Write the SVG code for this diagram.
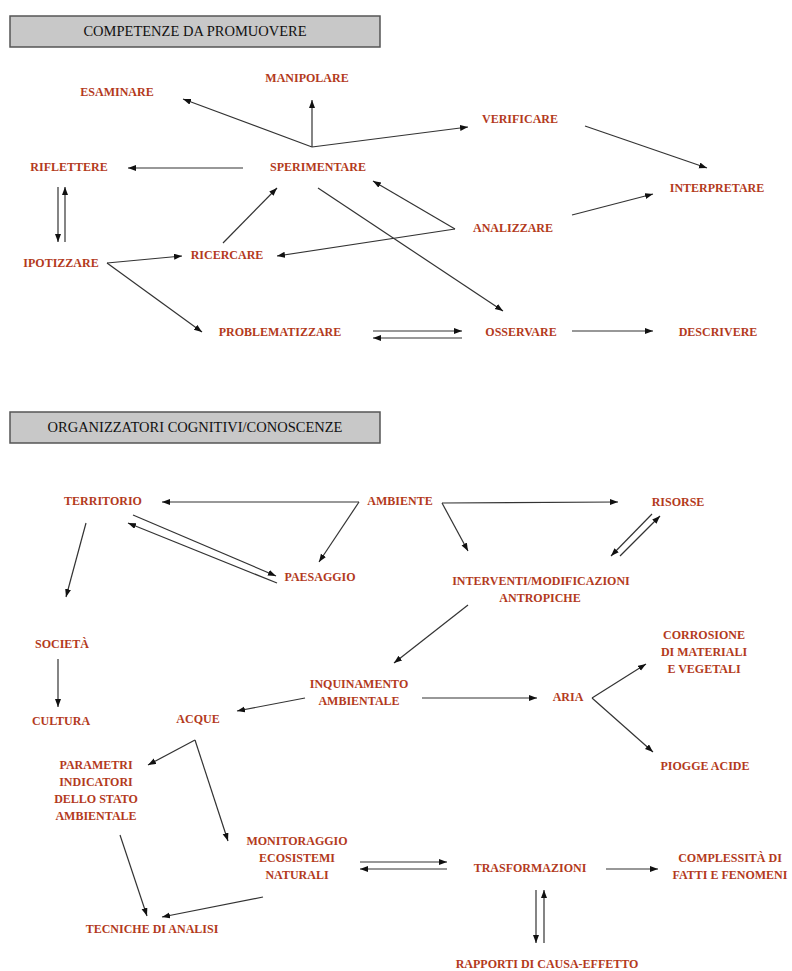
<svg xmlns="http://www.w3.org/2000/svg" width="792" height="971" viewBox="0 0 792 971">
<style>
.hdr{fill:#c8c8c8;stroke:#555;stroke-width:1.5}
.ht{font-family:"Liberation Serif",serif;font-size:14.5px;fill:#111;text-anchor:middle}
.t{font-family:"Liberation Serif",serif;font-weight:bold;font-size:12px;fill:#b33a1c;text-anchor:middle}
.c line,.c polyline{stroke:#333;stroke-width:1.2;fill:none;marker-end:url(#a)}
.c .n{marker-end:none}
</style>
<defs>
<marker id="a" markerUnits="userSpaceOnUse" markerWidth="9" markerHeight="7" refX="8" refY="3" orient="auto"><path d="M0,0 L8,3 L0,6 z" fill="#111"/></marker>
</defs>
<rect width="792" height="971" fill="#fff"/>
<g id="header1"><rect class="hdr" x="10" y="16" width="370" height="31"/><text class="ht" x="195" y="36">COMPETENZE DA PROMUOVERE</text></g>
<g id="header2"><rect class="hdr" x="10" y="412" width="370" height="31"/><text class="ht" x="195" y="432">ORGANIZZATORI COGNITIVI/CONOSCENZE</text></g>

<g id="esaminare"><text class="t" x="117" y="96">ESAMINARE</text></g>
<g id="manipolare"><text class="t" x="307" y="82">MANIPOLARE</text></g>
<g id="verificare"><text class="t" x="520" y="123">VERIFICARE</text></g>
<g id="interpretare"><text class="t" x="717" y="192">INTERPRETARE</text></g>
<g id="analizzare"><text class="t" x="513" y="232">ANALIZZARE</text></g>
<g id="riflettere"><text class="t" x="69" y="171">RIFLETTERE</text></g>
<g id="sperimentare"><text class="t" x="318" y="171">SPERIMENTARE</text></g>
<g id="ipotizzare"><text class="t" x="61" y="267">IPOTIZZARE</text></g>
<g id="ricercare"><text class="t" x="227" y="259">RICERCARE</text></g>
<g id="problematizzare"><text class="t" x="280" y="336">PROBLEMATIZZARE</text></g>
<g id="osservare"><text class="t" x="521" y="336">OSSERVARE</text></g>
<g id="descrivere"><text class="t" x="718" y="336">DESCRIVERE</text></g>

<g id="territorio"><text class="t" x="103" y="505">TERRITORIO</text></g>
<g id="ambiente"><text class="t" x="400" y="505">AMBIENTE</text></g>
<g id="risorse"><text class="t" x="678" y="506">RISORSE</text></g>
<g id="paesaggio"><text class="t" x="320" y="581">PAESAGGIO</text></g>
<g id="interventi"><text class="t" x="541" y="585">INTERVENTI/MODIFICAZIONI</text><text class="t" x="540" y="602">ANTROPICHE</text></g>
<g id="societa"><text class="t" x="62" y="648">SOCIETÀ</text></g>
<g id="cultura"><text class="t" x="61" y="725">CULTURA</text></g>
<g id="inquinamento"><text class="t" x="359" y="688">INQUINAMENTO</text><text class="t" x="359" y="705">AMBIENTALE</text></g>
<g id="acque"><text class="t" x="198" y="723">ACQUE</text></g>
<g id="aria"><text class="t" x="568" y="701">ARIA</text></g>
<g id="corrosione"><text class="t" x="704" y="639">CORROSIONE</text><text class="t" x="704" y="656">DI MATERIALI</text><text class="t" x="704" y="673">E VEGETALI</text></g>
<g id="piogge"><text class="t" x="705" y="770">PIOGGE ACIDE</text></g>
<g id="parametri"><text class="t" x="96" y="769">PARAMETRI</text><text class="t" x="96" y="786">INDICATORI</text><text class="t" x="96" y="803">DELLO STATO</text><text class="t" x="96" y="820">AMBIENTALE</text></g>
<g id="monitoraggio"><text class="t" x="297" y="845">MONITORAGGIO</text><text class="t" x="297" y="862">ECOSISTEMI</text><text class="t" x="297" y="879">NATURALI</text></g>
<g id="tecniche"><text class="t" x="152" y="933">TECNICHE DI ANALISI</text></g>
<g id="trasformazioni"><text class="t" x="530" y="872">TRASFORMAZIONI</text></g>
<g id="complessita"><text class="t" x="730" y="862">COMPLESSITÀ DI</text><text class="t" x="730" y="879">FATTI E FENOMENI</text></g>
<g id="rapporti"><text class="t" x="547" y="968">RAPPORTI DI CAUSA-EFFETTO</text></g>

<g id="connectors" class="c">
<line x1="312" y1="147" x2="183" y2="99"/>
<line x1="312" y1="147" x2="312" y2="100"/>
<line x1="312" y1="147" x2="468" y2="127"/>
<line x1="243" y1="168" x2="128" y2="168"/>
<line x1="58" y1="187" x2="58" y2="242"/>
<line x1="65" y1="242" x2="65" y2="187"/>
<line x1="107" y1="263" x2="182" y2="256"/>
<line x1="107" y1="263" x2="202" y2="332"/>
<line x1="223" y1="243" x2="277" y2="188"/>
<polyline points="455,229 373,181"/>
<line x1="455" y1="229" x2="277" y2="256"/>
<line x1="318" y1="188" x2="503" y2="311"/>
<line x1="585" y1="126" x2="707" y2="168"/>
<line x1="572" y1="215" x2="653" y2="194"/>
<line x1="373" y1="331" x2="462" y2="331"/>
<line x1="462" y1="338" x2="373" y2="338"/>
<line x1="572" y1="331" x2="653" y2="331"/>

<line x1="359" y1="502" x2="162" y2="502"/>
<line x1="359" y1="502" x2="319" y2="562"/>
<line x1="133" y1="515" x2="276" y2="576"/>
<line x1="277" y1="583" x2="128" y2="523"/>
<line x1="86" y1="523" x2="66" y2="597"/>
<line x1="442" y1="503" x2="618" y2="502"/>
<line x1="442" y1="503" x2="468" y2="551"/>
<line x1="620" y1="556" x2="660" y2="516"/>
<line x1="652" y1="514" x2="611" y2="556"/>
<line x1="468" y1="605" x2="394" y2="663"/>
<line x1="305" y1="698" x2="237" y2="711"/>
<line x1="422" y1="698" x2="537" y2="698"/>
<line x1="592" y1="698" x2="646" y2="664"/>
<line x1="592" y1="698" x2="653" y2="752"/>
<line x1="58" y1="659" x2="58" y2="707"/>
<line x1="195" y1="740" x2="148" y2="765"/>
<line x1="195" y1="740" x2="228" y2="841"/>
<line x1="120" y1="835" x2="147" y2="916"/>
<line x1="263" y1="897" x2="162" y2="917"/>
<line x1="360" y1="862" x2="447" y2="862"/>
<line x1="447" y1="869" x2="360" y2="869"/>
<line x1="606" y1="869" x2="658" y2="869"/>
<line x1="536" y1="890" x2="536" y2="943"/>
<line x1="544" y1="943" x2="544" y2="890"/>
</g>
</svg>
